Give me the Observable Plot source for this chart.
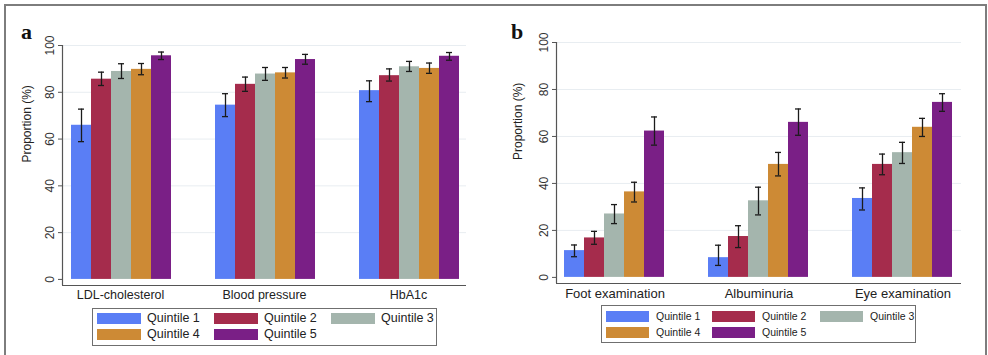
<!DOCTYPE html>
<html><head><meta charset="utf-8">
<script src="https://cdn.jsdelivr.net/npm/d3@7"></script>
<script src="https://cdn.jsdelivr.net/npm/@observablehq/plot@0.6"></script>
<style>
body{margin:0;background:#fff;width:988px;height:355px;overflow:hidden;position:relative;font-family:"Liberation Sans",Arial,sans-serif;}
.frame{position:absolute;left:4px;top:4px;width:979px;height:400px;border:2px solid #7d7d7d;z-index:5;pointer-events:none;}
.layer{position:absolute;top:0;}
.tag{position:absolute;font-family:"Liberation Serif","Times New Roman",serif;font-weight:bold;font-size:22px;line-height:22px;color:#111;}
.legend{position:absolute;border:1px solid #6f6f6f;box-sizing:border-box;}
.sw{position:absolute;height:11px;}
.lt{position:absolute;color:#222;white-space:nowrap;line-height:11px;}
</style></head><body>
<div id="root"></div>
<div class="frame"></div>
<script>
const quintiles = ["Quintile 1", "Quintile 2", "Quintile 3", "Quintile 4", "Quintile 5"];
const colors = ["#5a7ef5", "#a52c4c", "#a4b5ad", "#cd8a35", "#7a1f86"];
const yTicks = [0, 20, 40, 60, 80, 100];

const categoriesA = ["LDL-cholesterol", "Blood pressure", "HbA1c"];
const estA = [[65.9, 85.6, 88.9, 89.8, 95.6], [74.5, 83.4, 87.8, 88.3, 94.0], [80.7, 87.1, 90.9, 90.2, 95.4]];
const loA  = [[58.9, 82.9, 85.9, 87.5, 94.0], [69.6, 80.4, 85.1, 86.1, 92.0], [76.0, 84.8, 88.9, 88.1, 93.7]];
const hiA  = [[72.8, 88.6, 92.2, 92.3, 97.2], [79.4, 86.5, 90.6, 90.6, 96.2], [84.9, 90.0, 93.2, 92.5, 97.0]];

const categoriesB = ["Foot examination", "Albuminuria", "Eye examination"];
const estB = [[11.4, 16.8, 27.0, 36.4, 62.3], [8.4, 17.4, 32.6, 48.1, 66.0], [33.6, 48.1, 53.1, 63.9, 74.5]];
const loB  = [[8.8, 14.1, 22.9, 32.1, 56.3], [5.1, 12.7, 26.6, 43.2, 60.5], [28.7, 43.7, 48.5, 60.0, 70.7]];
const hiB  = [[13.8, 19.6, 31.0, 40.5, 68.3], [13.7, 22.0, 38.4, 53.2, 71.7], [38.1, 52.5, 57.5, 67.7, 78.2]];

const root = document.getElementById("root");
const FONT = '"Liberation Sans", Arial, sans-serif';

function rowsOf(cats, est, lo, hi) {
  const out = [];
  cats.forEach((c, i) => quintiles.forEach((q, j) => out.push({cat: c, q, v: est[i][j], lo: lo[i][j], hi: hi[i][j]})));
  return out;
}

function panel(cfg) {
  const rows = rowsOf(cfg.cats, cfg.est, cfg.lo, cfg.hi);
  const dims = {width: cfg.width, height: cfg.height, marginLeft: cfg.ml, marginRight: cfg.mr, marginTop: cfg.mt, marginBottom: cfg.mb};
  const ydom = [-2.6, 100];
  const bg = Plot.plot({
    ...dims,
    style: {background: "transparent", fontFamily: FONT, fontSize: "12px", color: "#333"},
    x: {domain: [0, 1], axis: null},
    y: {domain: ydom, axis: null},
    marks: [
      Plot.gridY([20, 40, 60, 80, 100], {stroke: "#e8edf1", strokeOpacity: 1, strokeWidth: 1}),
      Plot.axisY(yTicks, {tickSize: 4, tickPadding: 5, tickRotate: -90, label: null, stroke: "#555", fill: "#333", fontSize: 12}),
      Plot.ruleX([0], {stroke: "#555", strokeWidth: 1.2}),
      Plot.ruleY([ydom[0]], {stroke: "#555", strokeWidth: 1.2}),
      Plot.text(["Proportion (%)"], {frameAnchor: "left", rotate: -90, dx: cfg.labelDx, dy: -3, fontSize: 12, fill: "#222"})
    ]
  });
  const fg = Plot.plot({
    ...dims,
    style: {background: "transparent", fontFamily: FONT, fontSize: cfg.catFont, color: "#222", overflow: "visible"},
    fx: {domain: cfg.cats, paddingInner: cfg.pin, paddingOuter: 0, axis: "bottom", tickSize: 0, tickPadding: 5, label: null},
    x: {domain: quintiles, padding: 0, insetLeft: cfg.il, insetRight: cfg.ir, axis: null},
    y: {domain: ydom, axis: null},
    color: {domain: quintiles, range: colors},
    marks: [
      Plot.barY(rows, {fx: "cat", x: "q", y: "v", fill: "q"}),
      Plot.ruleX(rows, {fx: "cat", x: "q", y1: "lo", y2: "hi", stroke: "#1b1b1b", strokeWidth: 1.3}),
      Plot.tickY(rows, {fx: "cat", x: "q", y: "lo", insetLeft: 7, insetRight: 7, stroke: "#1b1b1b", strokeWidth: 1.3}),
      Plot.tickY(rows, {fx: "cat", x: "q", y: "hi", insetLeft: 7, insetRight: 7, stroke: "#1b1b1b", strokeWidth: 1.3})
    ]
  });
  for (const svg of [bg, fg]) {
    svg.classList.add("layer");
    svg.style.left = cfg.left + "px";
    svg.style.width = cfg.width + "px";
    svg.style.maxWidth = "none";
    root.appendChild(svg);
  }
  const tag = document.createElement("div");
  tag.className = "tag";
  tag.textContent = cfg.tag;
  tag.style.left = cfg.tagX + "px";
  tag.style.top = cfg.tagY + "px";
  root.appendChild(tag);

  const lg = document.createElement("div");
  lg.className = "legend";
  Object.assign(lg.style, {left: cfg.lg.left + "px", top: cfg.lg.top + "px", width: cfg.lg.w + "px", height: cfg.lg.h + "px"});
  root.appendChild(lg);
  quintiles.forEach((q, k) => {
    const col = k % 3, row = Math.floor(k / 3);
    const sx = cfg.lg.cols[col], sy = cfg.lg.rows[row];
    const sw = document.createElement("div");
    sw.className = "sw";
    Object.assign(sw.style, {left: sx + "px", top: sy + "px", width: cfg.lg.sw + "px", background: colors[k]});
    root.appendChild(sw);
    const t = document.createElement("div");
    t.className = "lt";
    t.textContent = q;
    Object.assign(t.style, {left: (sx + cfg.lg.tOff) + "px", top: sy + "px", fontSize: cfg.lg.font + "px"});
    root.appendChild(t);
  });
}

panel({
  tag: "a", tagX: 21, tagY: 21,
  cats: categoriesA, est: estA, lo: loA, hi: hiA,
  left: 0, width: 480, height: 310, ml: 62, mr: 14, mt: 45, mb: 25,
  pin: 28 / 144, il: 7, ir: 6, labelDx: -35, catFont: "12.5px",
  lg: {left: 92, top: 308, w: 345, h: 38, cols: [97, 214, 331], rows: [313, 329], sw: 44, tOff: 50, font: 12.5}
});
panel({
  tag: "b", tagX: 511, tagY: 21,
  cats: categoriesB, est: estB, lo: loB, hi: hiB,
  left: 494, width: 480, height: 310, ml: 62, mr: 13, mt: 42, mb: 27,
  pin: 27 / 144, il: 6, ir: 8, labelDx: -38, catFont: "13px",
  lg: {left: 601, top: 305, w: 315, h: 38, cols: [606, 712, 820], rows: [311, 327], sw: 43, tOff: 50, font: 10.5}
});
</script>
</body></html>
